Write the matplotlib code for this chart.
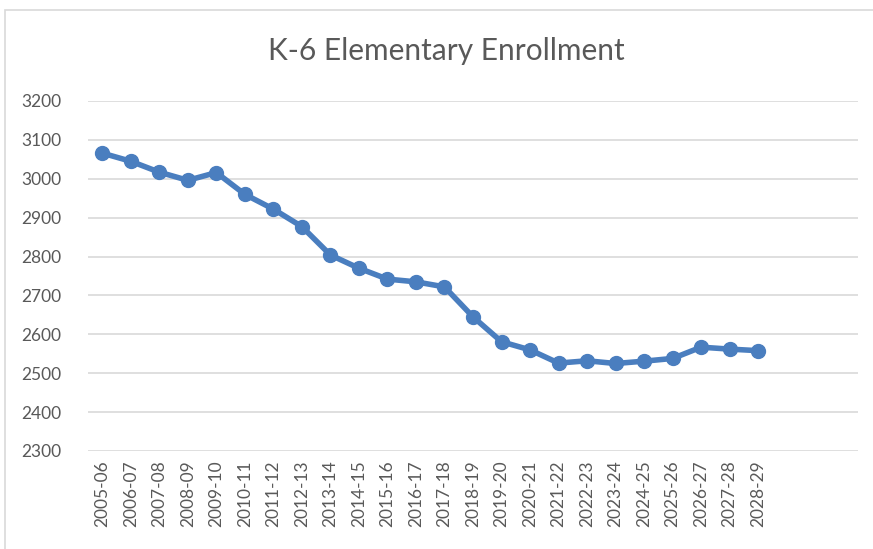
import matplotlib.pyplot as plt
from matplotlib.patches import Rectangle

# datos
years = ['2005-06', '2006-07', '2007-08', '2008-09', '2009-10', '2010-11',
         '2011-12', '2012-13', '2013-14', '2014-15', '2015-16', '2016-17',
         '2017-18', '2018-19', '2019-20', '2020-21', '2021-22', '2022-23',
         '2023-24', '2024-25', '2025-26', '2026-27', '2027-28', '2028-29']
enrollment = [3066, 3045, 3017, 2996, 3016, 2960, 2922, 2877, 2804, 2770,
              2742, 2735, 2722, 2645, 2581, 2560, 2526, 2532, 2525, 2531,
              2538, 2567, 2562, 2558]
yticks = [2300, 2400, 2500, 2600, 2700, 2800, 2900, 3000, 3100, 3200]

plt.rcParams['font.family'] = ['Lato', 'DejaVu Sans']

fig = plt.figure(figsize=(8.73, 5.49), dpi=100)
ax = fig.add_axes([88/873, 1-451/549, 770/873, 350/549])

# marco del grafico
fig.patches.append(Rectangle((5/873, -0.1), 2, 1.1 - 10/549,
                             transform=fig.transFigure, fill=False,
                             edgecolor='#d9d9d9', linewidth=1.2))

x = list(range(len(years)))
ax.plot(x, enrollment, color='#4a7ebf', linewidth=4.0, marker='o',
        markersize=10, solid_capstyle='round', zorder=3)

ax.set_ylim(2300, 3200)
ax.set_yticks(yticks)
ax.set_xlim(-0.5, 26.5)
ax.set_xticks(x)
ax.set_xticklabels(years, rotation=90)
ax.yaxis.grid(True, color='#d9d9d9', linewidth=1.2)
ax.set_axisbelow(True)
for s in ax.spines.values():
    s.set_visible(False)
ax.tick_params(axis='both', length=0, colors='#595959', labelsize=12.5)
ax.tick_params(axis='y', pad=19)
ax.tick_params(axis='x', pad=7)

fig.text(446/873, 1-51/549, 'K-6 Elementary Enrollment', ha='center',
         va='center', fontsize=21.5, color='#595959')

fig.savefig('out.png', dpi=100)
